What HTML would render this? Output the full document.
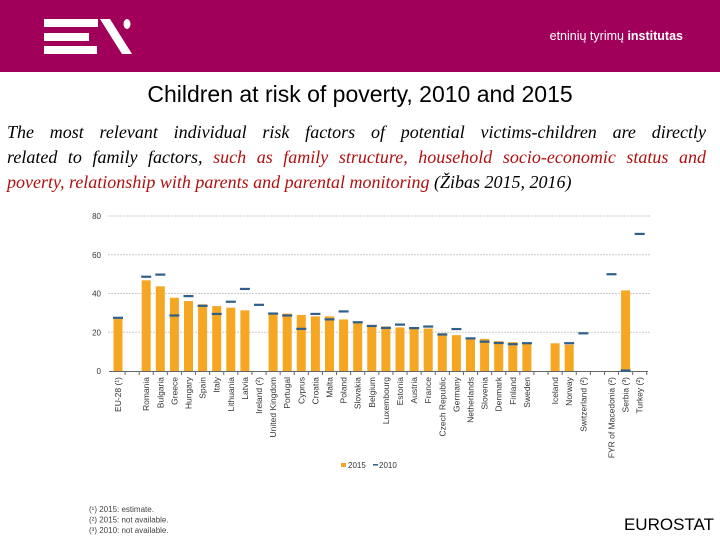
<!DOCTYPE html>
<html><head><meta charset="utf-8">
<style>
body{margin:0;width:720px;height:540px;overflow:hidden;background:#fff;position:relative;font-family:"Liberation Sans",sans-serif}
#hdr{position:absolute;left:0;top:0;width:720px;height:72px;background:#a0005a}
#title{position:absolute;left:0;width:720px;top:81px;text-align:center;font-size:23px;color:#000}
#para{position:absolute;left:7px;width:699px;top:120px;font-family:"Liberation Serif",serif;font-style:italic;font-size:18px;line-height:25px;color:#000}
#para .ln{display:block;text-align:justify;text-align-last:justify;white-space:nowrap}
#para .ln.last{text-align-last:left}
.red{color:#b01010}
#src{position:absolute;right:6px;top:515px;font-size:17px}
</style></head><body>
<div id="hdr">
<svg width="720" height="72">
<rect x="44" y="19" width="54" height="8" fill="#fff"/>
<rect x="44" y="33" width="45" height="8" fill="#fff"/>
<rect x="44" y="46" width="53" height="8" fill="#fff"/>
<polygon points="100,19 110,19 132,54 122,54" fill="#fff"/>
<ellipse cx="127" cy="24" rx="3.5" ry="5" fill="#fff"/>
<text x="683" y="40" text-anchor="end" fill="#fff" font-size="12.5" font-family="Liberation Sans, sans-serif">etninių tyrimų <tspan font-weight="bold">institutas</tspan></text>
</svg></div>
<div id="title">Children at risk of poverty, 2010 and 2015</div>
<div id="para"><span class="ln">The most relevant individual risk factors of potential victims-children are directly</span><span class="ln">related to family factors, <span class="red">such as family structure, household socio-economic status and</span></span><span class="ln last"><span class="red">poverty, relationship with parents and parental monitoring</span> (Žibas 2015, 2016)</span></div>
<svg id="chart" width="720" height="540" style="position:absolute;left:0;top:0"></svg>
<div id="src">EUROSTAT</div>
<script>
const categories=["EU-28 (¹)","","Romania","Bulgaria","Greece","Hungary","Spain","Italy","Lithuania","Latvia","Ireland (²)","United Kingdom","Portugal","Cyprus","Croatia","Malta","Poland","Slovakia","Belgium","Luxembourg","Estonia","Austria","France","Czech Republic","Germany","Netherlands","Slovenia","Denmark","Finland","Sweden","","Iceland","Norway","Switzerland (²)","","FYR of Macedonia (²)","Serbia (³)","Turkey (²)"];
const values2015=[26.9,null,46.8,43.7,37.8,36.1,34.4,33.5,32.7,31.3,null,29.7,29.6,28.9,28.2,28.2,26.6,24.9,23.3,23.0,22.5,22.3,21.9,19.5,18.5,17.2,16.6,15.4,14.9,14.0,null,14.3,13.6,null,null,null,41.6,null];
const values2010=[27.5,null,48.7,49.8,28.7,38.7,33.7,29.5,35.8,42.4,34.2,29.7,28.7,21.8,29.5,26.7,30.8,25.2,23.3,22.3,24.0,22.2,23.0,18.9,21.7,16.9,15.2,14.5,13.9,14.4,null,null,14.4,19.5,null,50.0,0.3,70.8];
const yTicks=[0,20,40,60,80];
const footnotes=["(¹) 2015: estimate.","(²) 2015: not available.","(³) 2010: not available."];
const NS="http://www.w3.org/2000/svg",svg=document.getElementById('chart');
const x0=118,step=14.1,y=v=>371-v*1.9375,x=i=>x0+i*step;
function mk(t,a,txt){const e=document.createElementNS(NS,t);for(const k in a)e.setAttribute(k,a[k]);if(txt!=null)e.textContent=txt;svg.appendChild(e);return e;}
yTicks.forEach(t=>{
 if(t>0){const g=mk('line',{x1:108,x2:650,y1:y(t),y2:y(t),stroke:'#ccc','stroke-dasharray':'2,1'});
 
 }
 const l=mk('text',{x:101,y:y(t)+3,'text-anchor':'end','font-size':8,fill:'#333'},t);
 
 
});
const ax=mk('line',{x1:109,x2:648,y1:371.5,y2:371.5,stroke:'#666'});


categories.forEach((c,i)=>{
 const cx=x(i);
 const tk=mk('line',{x1:cx+step/2,x2:cx+step/2,y1:371,y2:375,stroke:'#666'});
 
 
 if(values2015[i]!=null){const b=mk('rect',{x:cx-4.5,y:y(values2015[i]),width:9,height:values2015[i]*1.9375,fill:'#f5a623'});
 
 }
 if(values2010[i]!=null){const d=mk('rect',{x:cx-5,y:y(values2010[i])-1,width:10,height:2.2,fill:'#2f5f8a'});
 
 }
 if(c){const t=mk('text',{transform:`translate(${cx+3},377) rotate(-90)`,'text-anchor':'end','font-size':8.5,fill:'#333'},c);
 
 }
});
const lg1=mk('rect',{x:341,y:463,width:5,height:4,fill:'#f5a623'});


const lt1=mk('text',{x:348,y:468,'font-size':8,fill:'#333'},'2015');


const lg2=mk('rect',{x:373,y:464,width:5,height:1.5,fill:'#2f5f8a'});


const lt2=mk('text',{x:379,y:468,'font-size':8,fill:'#333'},'2010');


footnotes.forEach((f,i)=>{const t=mk('text',{x:89,y:512+i*10.5,'font-size':8,fill:'#444'},f);
 
 });
</script>
</body></html>
